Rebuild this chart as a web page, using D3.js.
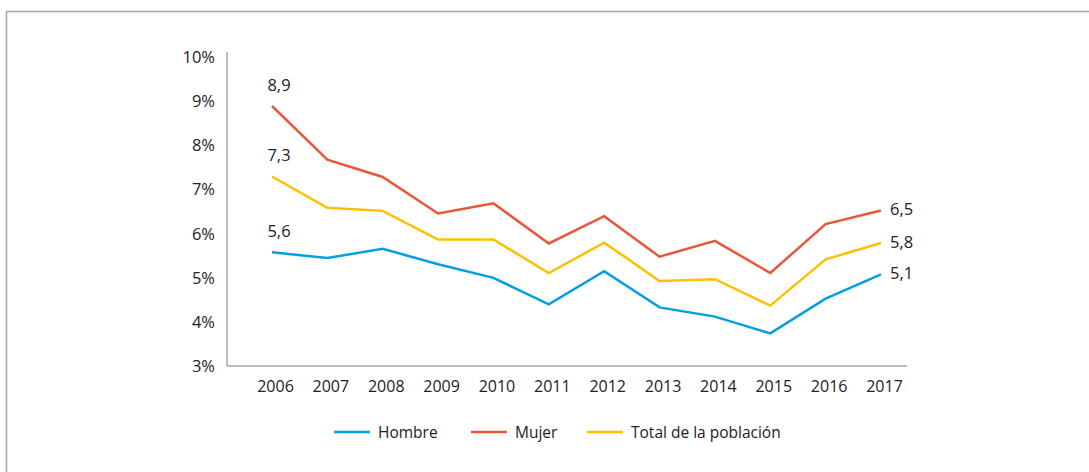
<!DOCTYPE html>
<html>
<head>
<meta charset="utf-8">
<script src="https://cdn.jsdelivr.net/npm/d3@7"></script>
<style>
  body { margin: 0; background: #fff; }
  svg text { font-family: "Open Sans", "Noto Sans", sans-serif; fill: #222; }
</style>
</head>
<body>
<div id="chart"></div>
<script>
// data
var years = ["2006","2007","2008","2009","2010","2011","2012","2013","2014","2015","2016","2017"];
var hombre = [5.58, 5.45, 5.66, 5.31, 5.0, 4.40, 5.15, 4.33, 4.12, 3.74, 4.53, 5.08];
var mujer  = [8.9, 7.68, 7.29, 6.46, 6.69, 5.78, 6.40, 5.48, 5.84, 5.11, 6.22, 6.53];
var total  = [7.3, 6.59, 6.52, 5.87, 5.87, 5.11, 5.80, 4.93, 4.97, 4.37, 5.42, 5.79];
var yTicks = [3, 4, 5, 6, 7, 8, 9, 10];
var seriesNames = ["Hombre", "Mujer", "Total de la población"];
var firstLabels = ["5,6", "8,9", "7,3"];
var lastLabels = ["5,1", "6,5", "5,8"];

function init(){
    var w = 1089;
    var h = 472;
    var colors = ["#049fe2", "#ea5639", "#fec000"];
    var allSeries = [hombre, mujer, total];

    var svg = d3.select("#chart")
            .append("svg")
            .attr("width", w)
            .attr("height", h);

    // frame (top and left only)
    svg.append("path")
        .attr("d", "M6.5," + h + "V11.5H" + w)
        .attr("fill", "none")
        .attr("stroke", "#a6a6a6")
        .attr("stroke-width", 1.5);

    var xScale = d3.scalePoint()
                    .domain(years)
                    .range([272, 881]);

    var yScale = d3.scaleLinear()
                    .domain([3, 10])
                    .range([366, 57.5]);

    // axes lines
    svg.append("line")
        .attr("x1", 227).attr("x2", 227)
        .attr("y1", 52).attr("y2", yScale(3))
        .attr("stroke", "#a6a6a6").attr("stroke-width", 1.5);
    svg.append("line")
        .attr("x1", 227).attr("x2", 907)
        .attr("y1", yScale(3)).attr("y2", yScale(3))
        .attr("stroke", "#a6a6a6").attr("stroke-width", 1.5);

    var yAxis = d3.axisLeft(yScale)
                    .tickValues(yTicks)
                    .tickSize(0)
                    .tickPadding(0)
                    .tickFormat(function(d){ return d + "%"; });
    var gy = svg.append("g")
        .attr("transform", "translate(215,0)")
        .call(yAxis);
    gy.select(".domain").remove();
    gy.selectAll("text").style("font-size", "16.5px").attr("fill", "#222");

    var xAxis = d3.axisBottom(xScale)
                    .tickSize(0)
                    .tickPadding(0);
    var gx = svg.append("g")
        .attr("transform", "translate(3,381)")
        .call(xAxis);
    gx.select(".domain").remove();
    gx.selectAll("text").style("font-size", "16px").attr("fill", "#222");

    var line = d3.line()
        .x(function(d, i){ return xScale(years[i]); })
        .y(function(d){ return yScale(d); });

    allSeries.forEach(function(s, k){
        svg.append("path")
            .datum(s)
            .attr("d", line)
            .attr("fill", "none")
            .attr("stroke", colors[k])
            .attr("stroke-width", 2.5)
            .attr("stroke-linejoin", "miter");

        // value labels at both ends
        svg.append("text")
            .attr("x", xScale(years[0]) + 7)
            .attr("y", yScale(s[0]) - 15)
            .attr("text-anchor", "middle")
            .style("font-size", "16.5px")
            .text(firstLabels[k]);
        svg.append("text")
            .attr("x", xScale(years[years.length - 1]) + 9)
            .attr("y", yScale(s[s.length - 1]) + 5)
            .style("font-size", "16.5px")
            .text(lastLabels[k]);
    });

    // legend
    var legendX = [334, 471, 587];
    seriesNames.forEach(function(name, k){
        svg.append("line")
            .attr("x1", legendX[k]).attr("x2", legendX[k] + 36)
            .attr("y1", 432).attr("y2", 432)
            .attr("stroke", colors[k])
            .attr("stroke-width", 2.5);
        svg.append("text")
            .attr("x", legendX[k] + 44)
            .attr("y", 437.5)
            .style("font-size", "15.5px")
            .text(name);
    });
}

window.onload = init;
</script>
</body>
</html>
